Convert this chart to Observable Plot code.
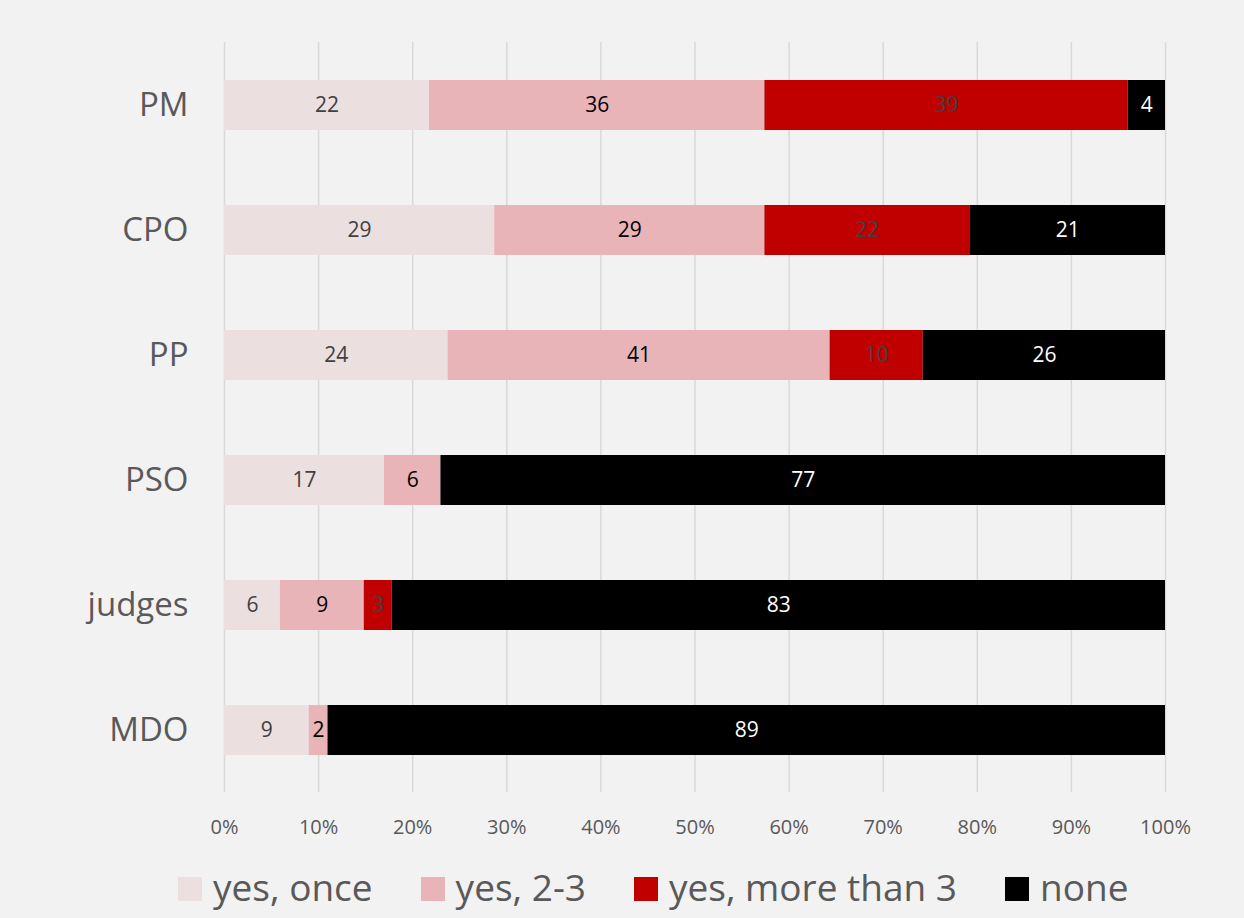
<!DOCTYPE html>
<html>
<head>
<meta charset="utf-8">
<script src="https://cdn.jsdelivr.net/npm/d3@7"></script>
<script src="https://cdn.jsdelivr.net/npm/@observablehq/plot@0.6"></script>
<style>
  html, body { margin: 0; padding: 0; background: #f2f2f2; }
  #chart { width: 1244px; }
  #legend { display: flex; align-items: center; height: 78px; padding-left: 178px; font-family: "Open Sans", sans-serif; font-size: 37px; color: #595959; line-height: 1; }
  .item { display: flex; align-items: center; margin-right: 48px; }
  .sw { width: 24px; height: 24px; margin-right: 11px; }
  .lbl { white-space: nowrap; position: relative; top: -3px; }
</style>
</head>
<body>
<div id="chart"></div>
<div id="legend"></div>
<script>
const categories = ["PM", "CPO", "PP", "PSO", "judges", "MDO"];
const series = ["yes, once", "yes, 2-3", "yes, more than 3", "none"];
const once = [22, 29, 24, 17, 6, 9];
const twoThree = [36, 29, 41, 6, 9, 2];
const moreThan3 = [39, 22, 10, 0, 3, 0];
const none = [4, 21, 26, 77, 83, 89];
const xTicks = [0, 0.1, 0.2, 0.3, 0.4, 0.5, 0.6, 0.7, 0.8, 0.9, 1];

const colors = ["#ebdfe0", "#e8b4b8", "#c00000", "#000000"];
const labelColors = ["#404040", "#000000", "#404040", "#ffffff"];

const seriesValues = [once, twoThree, moreThan3, none];
const data = [];
categories.forEach((c, i) => {
  series.forEach((s, j) => data.push({cat: c, series: s, value: seriesValues[j][i]}));
});

const stackOpts = (extra) => Plot.stackX({x: "value", y: "cat", z: "series", offset: "normalize", ...extra});

const labelMarks = series.map((s, j) =>
  Plot.text(data, stackOpts({
    text: d => (d.series === s && d.value > 0) ? String(d.value) : "",
    fill: labelColors[j],
    fontSize: 21,
    fontFamily: "'Open Sans', sans-serif"
  }))
);

const plot = Plot.plot({
  width: 1244,
  height: 850,
  marginLeft: 224,
  marginRight: 79,
  marginTop: 42,
  marginBottom: 58,
  style: {background: "#f2f2f2", overflow: "visible"},
  x: {domain: [0, 1]},
  y: {domain: categories, paddingInner: 0.6, paddingOuter: 0.3},
  color: {domain: series, range: colors},
  marks: [
    Plot.gridX(xTicks, {stroke: "#d9d9d9", strokeOpacity: 1, strokeWidth: 1.5}),
    Plot.barX(data, stackOpts({fill: "series"})),
    ...labelMarks,
    Plot.axisY({tickSize: 0, tickPadding: 36, fontSize: 33, fontFamily: "'Open Sans', sans-serif", fill: "#595959", label: null}),
    Plot.axisX(xTicks, {tickSize: 0, tickPadding: 27, fontSize: 20, fontFamily: "'Open Sans', sans-serif", fill: "#595959", tickFormat: d => Math.round(d * 100) + "%", label: null})
  ]
});
document.getElementById("chart").appendChild(plot);

const legend = document.getElementById("legend");
series.forEach((s, j) => {
  const item = document.createElement("div");
  item.className = "item";
  const sw = document.createElement("div");
  sw.className = "sw";
  sw.style.background = colors[j];
  const lbl = document.createElement("span");
  lbl.className = "lbl";
  lbl.textContent = s;
  item.appendChild(sw);
  item.appendChild(lbl);
  legend.appendChild(item);
});
</script>
</body>
</html>
